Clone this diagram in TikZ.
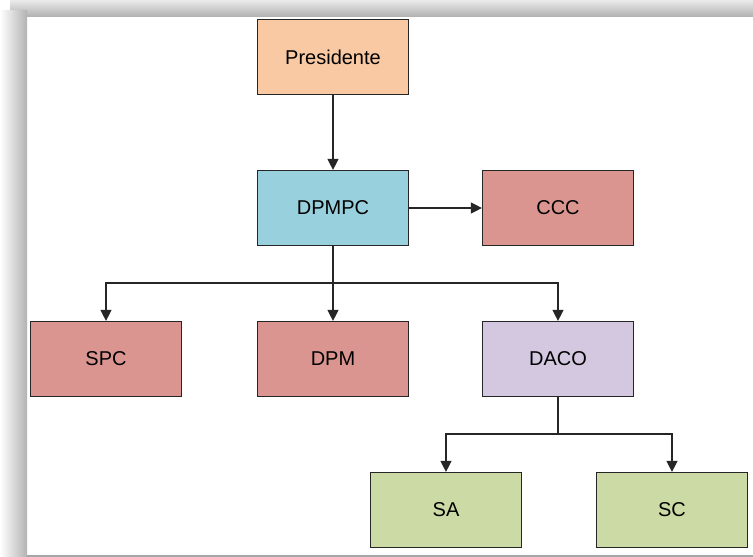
\documentclass[tikz,border=0pt]{standalone}
\usepackage{fontspec}
\setmainfont{Liberation Sans}
\usetikzlibrary{arrows.meta, positioning}

\definecolor{peach}{HTML}{F9C9A3}
\definecolor{skyblue}{HTML}{99D0DD}
\definecolor{salmon}{HTML}{DB9590}
\definecolor{lilac}{HTML}{D3C8E0}
\definecolor{sage}{HTML}{CCDAA6}

\tikzset{
	box/.style={draw=black!85, line width=1.2pt, minimum width=151pt, minimum height=75pt,
		inner sep=0pt, font=\fontsize{20}{24}\selectfont},
	link/.style={-{Triangle[length=11pt,width=11pt]}, line width=1.3pt, black!85},
	wire/.style={line width=1.3pt, black!85}
}

\begin{document}
\begin{tikzpicture}[x=1pt,y=-1pt]
		% Frame with shadow
		\useasboundingbox (0,0) rectangle (753,557);
		\fill[white] (0,0) rectangle (753,557);
		\shade[top color=black!8, bottom color=black!30] (10,0) rectangle (753,16);
		\shade[left color=white, right color=black!30] (0,10) rectangle (27,557);
		\draw[black!35, line width=1.5pt] (27,556) -- (753,556);

		% Boxes
		\node[box, fill=peach] (pres) at (333,57) {Presidente};
		\node[box, fill=skyblue] (dpmpc) at (333,208) {DPMPC};
		\node[box, fill=salmon] (ccc) at (558,208) {CCC};
		\node[box, fill=salmon] (spc) at (106,359) {SPC};
		\node[box, fill=salmon] (dpm) at (333,359) {DPM};
		\node[box, fill=lilac] (daco) at (558,359) {DACO};
		\node[box, fill=sage] (sa) at (446,510) {SA};
		\node[box, fill=sage] (sc) at (672,510) {SC};

		% Branch points
		\coordinate (bus1) at (333,283);
		\coordinate (bus2) at (558,434);

		% Connectors
		\draw[link] (pres) -- (dpmpc);
		\draw[link] (dpmpc) -- (ccc);
		\draw[link] (dpmpc) -- (dpm);
		\draw[link] (bus1) -| (spc);
		\draw[link] (bus1) -| (daco);
		\draw[wire] (daco) -- (bus2);
		\draw[link] (bus2) -| (sa);
		\draw[link] (bus2) -| (sc);

	\end{tikzpicture}
\end{document}
